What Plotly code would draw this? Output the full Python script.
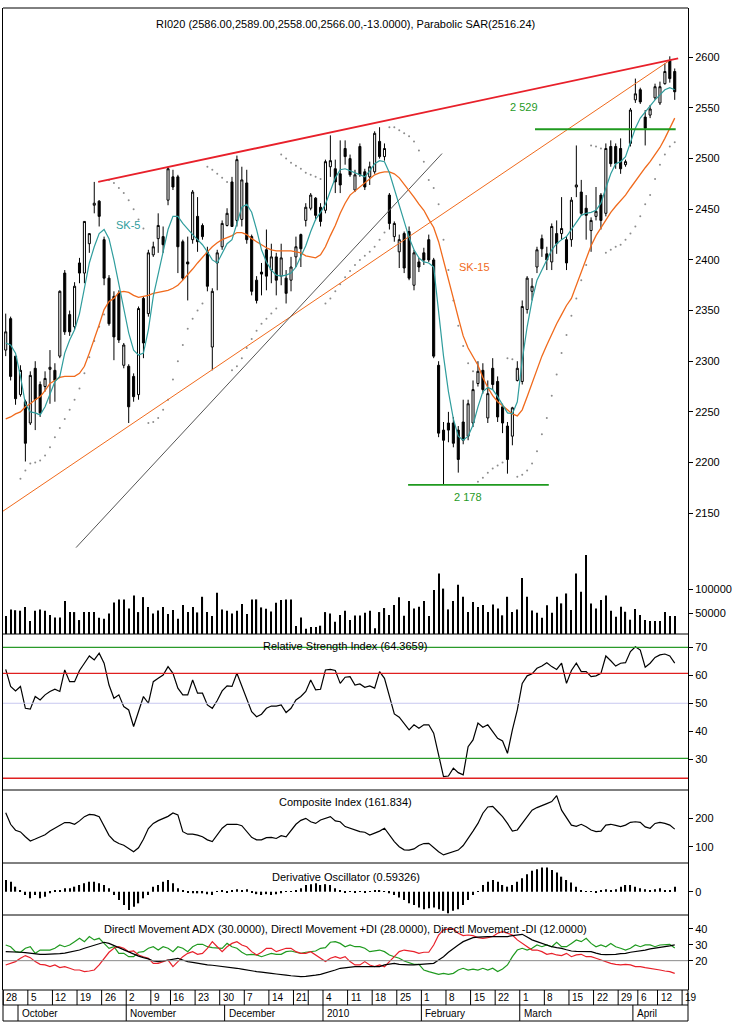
import plotly.graph_objects as go

# ---------------- data (trading-day index 0 = 28 Sep 2009) ----------------
day = list(range(137))

opn = [2311, 2342, 2305, 2267, 2260, 2239, 2293, 2277, 2275, 2292,
       2291, 2305, 2387, 2346, 2334, 2397, 2387, 2416, 2454, 2458,
       2420, 2382, 2364, 2367, 2296, 2295, 2285, 2267, 2362, 2347,
       2405, 2421, 2423, 2459, 2482, 2482, 2418, 2398, 2420, 2443,
       2434, 2408, 2314, 2397, 2413, 2434, 2477, 2439, 2440, 2476,
       2423, 2380, 2388, 2410, 2390, 2403, 2384, 2382, 2380, 2403,
       2425, 2439, 2451, 2461, 2452, 2449, 2492, 2490, 2485, 2510,
       2500, 2469, 2512, 2487, 2482, 2487, 2517, 2502, 2464, 2423,
       2408, 2426, 2428, 2375, 2398, 2407, 2420, 2400, 2296, 2232,
       2239, 2239, 2232, 2240, 2226, 2239, 2278, 2291, 2244, 2293,
       2280, 2255, 2236, 2226, 2281, 2280, 2351, 2369, 2393, 2421,
       2406, 2398, 2426, 2426, 2420, 2420, 2472, 2467, 2451, 2429,
       2443, 2464, 2446, 2512, 2512, 2510, 2494, 2515, 2558, 2568,
       2541, 2543, 2560, 2555, 2574, 2597, 2586]
high = [2347, 2344, 2305, 2296, 2262, 2290, 2300, 2280, 2290, 2311,
        2298, 2370, 2390, 2350, 2378, 2402, 2438, 2426, 2477, 2459,
        2423, 2385, 2369, 2370, 2318, 2297, 2288, 2354, 2364, 2410,
        2418, 2446, 2433, 2492, 2489, 2484, 2420, 2423, 2469, 2462,
        2436, 2413, 2372, 2410, 2439, 2451, 2482, 2503, 2492, 2489,
        2425, 2384, 2397, 2430, 2416, 2407, 2416, 2390, 2403, 2423,
        2426, 2456, 2466, 2462, 2456, 2499, 2523, 2499, 2518, 2518,
        2504, 2489, 2515, 2490, 2497, 2527, 2531, 2515, 2466, 2438,
        2425, 2428, 2433, 2410, 2402, 2412, 2425, 2402, 2300, 2240,
        2250, 2245, 2236, 2262, 2262, 2281, 2300, 2298, 2281, 2303,
        2285, 2258, 2240, 2255, 2300, 2360, 2384, 2382, 2413, 2425,
        2413, 2436, 2439, 2462, 2423, 2462, 2513, 2479, 2464, 2442,
        2472, 2466, 2515, 2518, 2515, 2520, 2499, 2550, 2579, 2570,
        2548, 2553, 2574, 2576, 2594, 2601, 2589]
low = [2305, 2281, 2257, 2265, 2201, 2237, 2232, 2245, 2270, 2258,
       2260, 2303, 2326, 2325, 2331, 2377, 2377, 2407, 2446, 2433,
       2375, 2335, 2301, 2318, 2293, 2239, 2260, 2262, 2303, 2344,
       2403, 2407, 2407, 2454, 2469, 2387, 2380, 2360, 2416, 2408,
       2420, 2369, 2291, 2370, 2410, 2433, 2433, 2433, 2433, 2416,
       2365, 2357, 2365, 2370, 2377, 2365, 2375, 2357, 2369, 2393,
       2393, 2433, 2449, 2439, 2433, 2446, 2482, 2466, 2466, 2494,
       2482, 2467, 2482, 2469, 2474, 2485, 2500, 2498, 2430, 2418,
       2392, 2387, 2380, 2370, 2388, 2395, 2398, 2303, 2225, 2178,
       2220, 2215, 2190, 2218, 2222, 2235, 2275, 2268, 2239, 2272,
       2240, 2229, 2189, 2217, 2280, 2277, 2347, 2360, 2387, 2403,
       2390, 2390, 2406, 2420, 2390, 2413, 2462, 2444, 2420, 2408,
       2439, 2430, 2443, 2492, 2490, 2485, 2492, 2512, 2555, 2554,
       2513, 2540, 2558, 2553, 2573, 2575, 2558]
close = [2329, 2285, 2263, 2291, 2219, 2286, 2262, 2249, 2283, 2294,
         2281, 2369, 2329, 2329, 2374, 2387, 2438, 2426, 2456, 2443,
         2382, 2337, 2324, 2321, 2316, 2255, 2265, 2352, 2318, 2407,
         2413, 2434, 2415, 2490, 2472, 2413, 2382, 2396, 2467, 2418,
         2423, 2374, 2369, 2407, 2436, 2446, 2433, 2499, 2479, 2420,
         2369, 2360, 2386, 2384, 2403, 2380, 2402, 2367, 2393, 2413,
         2411, 2452, 2464, 2444, 2438, 2497, 2498, 2477, 2474, 2502,
         2484, 2484, 2484, 2472, 2492, 2525, 2502, 2510, 2436, 2436,
         2420, 2392, 2382, 2407, 2393, 2400, 2400, 2305, 2229, 2222,
         2232, 2219, 2203, 2222, 2258, 2272, 2290, 2272, 2268, 2277,
         2245, 2239, 2203, 2254, 2293, 2354, 2382, 2374, 2410, 2411,
         2400, 2433, 2416, 2431, 2397, 2459, 2474, 2446, 2444, 2439,
         2448, 2439, 2510, 2495, 2495, 2490, 2497, 2548, 2564, 2556,
         2530, 2549, 2571, 2571, 2586, 2579, 2566]
volume = [44500, 58200, 56500, 55500, 63000, 34200, 55500, 58200, 55500, 46600,
          41800, 41800, 75400, 52700, 52700, 36300, 52700, 52700, 52700, 41100,
          39000, 50000, 72600, 78800, 78800, 60300, 87000, 52700, 83500, 63000,
          50000, 56200, 63000, 48600, 56800, 39000, 67300, 52700, 63000, 52000,
          84200, 52700, 44500, 92500, 58200, 55500, 50000, 55500, 69200, 48600,
          78800, 78800, 62300, 59600, 54100, 71900, 77400, 78800, 78800, 24000,
          41800, 18500, 21900, 21900, 24700, 52700, 50000, 32900, 46600, 55500,
          36300, 45900, 45900, 51400, 55500, 19200, 52700, 61000, 46600, 67300,
          83000, 45200, 75400, 60300, 63700, 75400, 44500, 98000, 132000, 101000,
          58200, 75400, 109000, 84200, 52700, 73300, 63000, 67300, 52700, 68500,
          60300, 46000, 84200, 52700, 58000, 123000, 84200, 56000, 51400, 41100,
          66600, 51400, 84200, 70600, 91000, 57000, 132000, 94500, 170000, 70600,
          60300, 77400, 87000, 55500, 43100, 63700, 53400, 37000, 58900, 46600,
          36300, 34200, 34200, 34200, 52700, 44500, 44500]
sk5 = [2318, 2316, 2308, 2285, 2258, 2250, 2249, 2247, 2255, 2268,
       2280, 2285, 2308, 2321, 2331, 2347, 2374, 2397, 2413, 2426,
       2430, 2421, 2400, 2377, 2351, 2328, 2311, 2306, 2308, 2331,
       2364, 2387, 2410, 2430, 2443, 2443, 2436, 2430, 2425, 2420,
       2415, 2408, 2400, 2397, 2407, 2416, 2420, 2436, 2452, 2455,
       2447, 2430, 2410, 2398, 2390, 2385, 2384, 2385, 2387, 2393,
       2403, 2414, 2428, 2440, 2447, 2455, 2468, 2481, 2489, 2490,
       2488, 2486, 2484, 2482, 2488, 2495, 2498, 2497, 2486, 2470,
       2452, 2436, 2422, 2410, 2402, 2398, 2397, 2393, 2350, 2305,
       2270, 2243, 2226, 2222, 2226, 2237, 2255, 2270, 2274, 2272,
       2265, 2257, 2249, 2248, 2260, 2301, 2334, 2360, 2380, 2390,
       2400, 2410, 2416, 2420, 2423, 2430, 2438, 2444, 2446, 2447,
       2449, 2456, 2471, 2485, 2495, 2497, 2502, 2515, 2530, 2540,
       2546, 2553, 2558, 2563, 2568, 2570, 2568]
sk15 = [2243, 2245, 2248, 2250, 2255, 2258, 2262, 2265, 2271, 2278,
        2281, 2284, 2285, 2285, 2285, 2288, 2295, 2308, 2321, 2336,
        2351, 2359, 2362, 2368, 2369, 2368, 2365, 2363, 2364, 2365,
        2367, 2368, 2369, 2370, 2372, 2375, 2380, 2385, 2391, 2397,
        2403, 2408, 2413, 2417, 2420, 2422, 2424, 2427, 2427, 2425,
        2421, 2418, 2415, 2412, 2410, 2409, 2409, 2409, 2409, 2408,
        2407, 2404, 2403, 2402, 2405, 2413, 2424, 2434, 2446, 2456,
        2464, 2468, 2472, 2476, 2480, 2484, 2486, 2487, 2487, 2485,
        2481, 2475, 2468, 2462, 2455, 2449, 2440, 2432, 2418, 2400,
        2380, 2362, 2343, 2325, 2313, 2304, 2296, 2284, 2274, 2266,
        2260, 2256, 2252, 2248, 2246, 2252, 2265, 2279, 2293, 2305,
        2316, 2327, 2337, 2346, 2355, 2362, 2375, 2390, 2403, 2414,
        2424, 2432, 2440, 2447, 2453, 2458, 2464, 2471, 2478, 2485,
        2491, 2497, 2504, 2511, 2520, 2530, 2540]
sar = [None, None, None, 2184, 2192, 2199, 2200, 2202, 2207, 2215,
       2225, 2234, 2243, 2252, 2262, 2273, 2288, 2304, 2320, 2334,
       2346, 2479, 2476, 2471, 2466, 2459, 2450, 2440, 2431, 2239,
       2240, 2244, 2252, 2262, 2282, 2300, 2316, 2332, 2342, 2350,
       2357, 2492, 2489, 2485, 2481, 2477, 2291, 2295, 2303, 2313,
       2322, 2330, 2337, 2342, 2347, 2352, 2504, 2500, 2496, 2493,
       2490, 2486, 2484, 2482, 2480, 2357, 2362, 2369, 2376, 2383,
       2389, 2395, 2400, 2404, 2408, 2413, 2420, 2427, 2531, 2531,
       2528, 2525, 2522, 2517, 2508, 2497, 2479, 2471, 2455, 2420,
       2390, 2360, 2335, 2315, 2298, 2290, 2181, 2185, 2190, 2194,
       2197, 2200, 2303, 2302, 2186, 2188, 2192, 2199, 2211, 2228,
       2244, 2266, 2287, 2308, 2326, 2345, 2362, 2380, 2395, 2513,
       2512, 2510, 2407, 2410, 2413, 2415, 2420, 2426, 2433, 2443,
       2455, 2464, 2480, 2494, 2504, 2512, 2516.24]
rsi = [62.1, 56.0, 54.4, 56.0, 48.2, 47.9, 52.4, 51.2, 53.0, 54.2,
       55.0, 54.2, 61.9, 57.7, 57.7, 61.7, 64.3, 66.9, 65.5, 67.9,
       64.3, 56.5, 51.8, 53.0, 48.8, 47.6, 41.7, 47.0, 52.4, 50.0,
       57.7, 58.9, 60.1, 63.1, 60.7, 55.4, 53.0, 53.0, 58.3, 53.6,
       53.6, 49.4, 48.2, 51.0, 54.4, 56.2, 56.0, 60.7, 56.0, 51.2,
       47.0, 45.2, 46.1, 48.2, 49.0, 49.0, 49.4, 46.7, 48.2, 51.2,
       52.4, 54.2, 58.3, 54.8, 55.0, 61.9, 62.1, 61.7, 57.1, 59.3,
       59.5, 56.5, 56.9, 55.7, 56.2, 55.4, 61.3, 58.9, 52.4, 46.2,
       45.0, 42.9, 40.5, 42.3, 41.1, 42.3, 42.3, 39.3, 31.0, 23.8,
       24.0, 26.8, 25.2, 24.4, 34.5, 36.9, 42.9, 41.4, 42.3, 39.9,
       37.5, 36.5, 32.1, 40.5, 47.6, 57.1, 59.8, 60.5, 62.5, 63.3,
       64.5, 63.1, 62.1, 64.3, 57.1, 61.7, 64.3, 61.3, 61.3, 59.5,
       59.8, 60.7, 66.9, 65.2, 63.3, 64.3, 64.5, 68.5, 70.2, 69.0,
       62.9, 64.3, 66.4, 67.3, 67.6, 66.9, 64.37]
ci = [220, 179, 158, 152, 135, 120, 127, 135, 142, 155,
      166, 175, 185, 185, 179, 191, 206, 214, 212, 206,
      175, 140, 121, 111, 105, 94, 82, 96, 126, 164,
      182, 192, 200, 207, 219, 212, 153, 144, 144, 141,
      135, 124, 118, 141, 165, 179, 179, 179, 174, 153,
      133, 124, 124, 132, 133, 129, 139, 135, 159, 179,
      193, 200, 188, 182, 194, 200, 206, 191, 188, 171,
      165, 158, 153, 151, 141, 148, 155, 165, 141, 118,
      100, 89, 88, 92, 104, 111, 112, 97, 82, 71,
      76, 82, 88, 104, 132, 155, 182, 218, 240, 242,
      224, 206, 182, 155, 159, 182, 209, 229, 238, 246,
      252, 259, 280, 229, 200, 176, 172, 179, 170, 159,
      153, 155, 176, 179, 175, 171, 176, 186, 188, 186,
      170, 165, 182, 186, 182, 176, 161.8]
dosc = [1.4, 1.2, 0.6, 0.2, -0.4, -0.8, -0.4, -0.8, -0.6, -0.2,
        0.1, 0.2, 0.4, 0.4, 0.6, 0.8, 1.0, 1.2, 1.2, 1.0,
        0.8, 0.4, -0.4, -1.0, -1.6, -2.2, -1.8, -1.4, -0.8, -0.4,
        0.6, 0.8, 1.2, 1.4, 1.0, 0.4, 0.1, -0.05, -0.2, -0.2,
        -0.2, -0.3, -0.4, 0.05, 0.1, -0.1, 0.1, 0.3, 0.2, 0.3,
        -0.05, -0.3, -0.4, -0.3, -0.4, -0.3, -0.2, 0.05, 0.05, 0.1,
        0.4, 0.8, 0.9, 1.0, 0.8, 0.9, 0.8, 0.4, 0.1, -0.05,
        0.05, -0.1, 0.03, -0.1, 0.03, 0.1, 0.2, 0.03, -0.2, -0.4,
        -0.7, -1.0, -1.4, -1.6, -1.9, -2.1, -2.0, -1.9, -2.1, -2.3,
        -2.6, -2.3, -2.1, -1.6, -1.0, -0.4, 0.05, 0.8, 1.2, 1.4,
        1.2, 0.8, 0.6, 0.8, 1.2, 1.6, 2.1, 2.5, 2.7, 2.9,
        2.9, 2.6, 2.3, 1.8, 1.4, 1.1, 0.6, 0.2, 0.03, 0.03,
        -0.1, 0.1, 0.3, 0.2, 0.3, 0.6, 0.8, 0.8, 0.6, 0.4,
        0.3, 0.2, 0.3, 0.4, 0.2, 0.16, 0.593]
adx = [25.7, 25.7, 25.7, 25.3, 25.1, 24.6, 24.4, 24.0, 24.0, 24.0,
       24.0, 24.4, 24.8, 25.3, 26.1, 26.7, 27.8, 28.8, 29.9, 30.9,
       31.6, 30.9, 29.5, 28.2, 26.7, 25.3, 24.0, 22.9, 21.9, 21.1,
       19.8, 19.4, 19.8, 20.4, 21.1, 21.5, 20.4, 19.4, 18.9, 18.3,
       17.7, 17.3, 17.1, 16.8, 16.4, 16.2, 15.6, 15.2, 14.7, 14.1,
       13.5, 13.1, 12.8, 12.6, 12.0, 11.6, 11.4, 10.9, 10.5, 10.1,
       9.9, 10.1, 10.3, 10.9, 11.4, 12.2, 13.1, 14.1, 15.2, 15.6,
       16.2, 16.2, 16.2, 16.2, 16.2, 16.2, 16.2, 17.3, 17.7, 18.3,
       17.7, 17.3, 17.3, 17.3, 17.5, 17.7, 17.9, 18.3, 20.4, 22.5,
       25.3, 27.8, 29.9, 32.0, 33.3, 34.5, 34.9, 35.2, 35.2, 35.2,
       35.2, 35.2, 35.2, 35.8, 36.2, 36.6, 34.9, 33.1, 32.0, 30.9,
       29.9, 28.8, 28.2, 27.8, 26.9, 26.1, 25.9, 25.7, 25.7, 25.7,
       24.8, 24.0, 23.8, 23.8, 24.0, 24.4, 24.6, 25.3, 25.7, 26.1,
       26.7, 27.4, 27.8, 28.2, 28.8, 29.3, 30.0]
pdi = [29.9, 28.8, 25.7, 25.3, 27.8, 28.8, 24.6, 26.7, 26.7, 26.7,
       27.8, 29.9, 28.8, 29.9, 32.0, 34.1, 32.0, 35.2, 33.1, 34.1,
       30.9, 27.8, 28.8, 24.6, 24.6, 22.5, 22.5, 25.3, 25.7, 27.8,
       28.8, 26.7, 28.8, 27.8, 25.7, 28.8, 27.8, 25.7, 28.8, 30.3,
       30.3, 28.8, 28.2, 27.8, 27.8, 30.9, 28.8, 27.8, 25.3, 23.6,
       24.0, 23.6, 22.5, 23.6, 24.6, 24.0, 24.0, 25.7, 26.1, 25.3,
       24.6, 25.3, 25.7, 26.1, 27.8, 28.2, 31.6, 32.0, 30.9, 28.8,
       29.9, 28.8, 28.8, 27.8, 25.7, 26.1, 26.7, 25.7, 23.6, 22.5,
       21.5, 19.8, 18.9, 17.7, 17.7, 14.1, 13.1, 12.0, 11.4, 12.0,
       11.4, 12.0, 14.1, 15.2, 14.1, 14.7, 14.1, 15.2, 14.1, 15.2,
       13.1, 14.7, 17.3, 22.5, 26.7, 27.8, 26.7, 27.8, 29.9, 28.8,
       29.9, 28.8, 31.6, 28.8, 28.8, 30.9, 33.1, 32.0, 34.1, 30.9,
       28.8, 29.9, 28.8, 30.9, 28.8, 27.8, 26.7, 27.8, 29.9, 28.8,
       29.9, 29.9, 28.8, 29.9, 30.3, 30.3, 28.0]
mdi = [17.3, 18.3, 19.4, 21.5, 23.2, 21.9, 19.4, 17.7, 17.3, 16.2,
       17.3, 15.6, 16.2, 15.2, 14.1, 14.1, 13.1, 13.5, 14.1, 17.3,
       21.5, 25.3, 27.8, 28.8, 27.8, 25.7, 26.1, 23.6, 22.5, 21.5,
       18.3, 18.3, 19.4, 20.4, 16.2, 19.4, 22.5, 24.6, 25.7, 24.0,
       24.6, 27.8, 32.0, 28.8, 25.7, 28.8, 30.9, 32.0, 29.9, 28.8,
       25.7, 23.6, 25.3, 27.8, 27.8, 25.7, 26.7, 27.8, 27.8, 25.7,
       24.6, 24.6, 25.7, 23.6, 21.5, 19.4, 21.5, 22.5, 21.5, 22.5,
       19.4, 17.3, 17.3, 19.4, 17.3, 16.2, 17.3, 16.2, 19.4, 22.5,
       25.7, 26.7, 26.1, 25.7, 24.6, 25.3, 25.3, 29.9, 36.2, 39.4,
       40.0, 40.0, 37.3, 35.8, 36.2, 35.8, 34.5, 34.1, 34.5, 35.2,
       37.3, 38.3, 37.3, 36.2, 33.1, 30.9, 28.8, 26.7, 26.7, 25.7,
       24.0, 24.6, 23.6, 23.2, 24.6, 22.5, 23.6, 24.0, 22.5, 22.5,
       21.5, 20.4, 19.4, 18.3, 17.7, 17.3, 17.7, 17.3, 16.2, 16.2,
       15.6, 15.2, 14.7, 14.1, 13.5, 13.1, 12.0]

# drawn trend lines / levels (chart coordinates: day index, price)
resist_x, resist_y = [18.8, 136.7], [2477, 2599]
support_x, support_y = [-0.55, 135.0], [2152, 2597]
trend_x, trend_y = [14.3, 88.7], [2116, 2505]
level_hi_x, level_hi = [107.6, 136.2], 2529
level_lo_x, level_lo = [81.8, 110.4], 2178
rsi_levels = [(70, "#2a9a2a"), (60.7, "#e02020"), (30.3, "#2a9a2a"), (23.2, "#e02020")]

week_idx = [0, 5, 10, 15, 20, 25, 30, 34, 39, 44, 49, 54, 59, 62, 65, 70, 75, 80,
            85, 90, 95, 100, 105, 110, 115, 120, 125, 129, 133, 138]
week_lbl = ["28", "5", "12", "19", "26", "2", "9", "16", "23", "30", "7", "14", "21", "",
            "4", "11", "18", "25", "1", "8", "15", "22", "1", "8", "15", "22", "29", "6", "12", "19"]
month_idx = [3, 25, 45, 65, 85, 105, 128]
month_lbl = ["October", "November", "December", "2010", "February", "March", "April"]

# ---------------- layout helpers ----------------
W, H = 739, 1022
ML, MR, MT, MB = 3, 51, 8, 32
PW, PH = W - ML - MR, H - MT - MB
X0, X1 = -0.55, 138.7


def fy(py):
    return (H - MB - py) / PH


def fxi(i):
    return (i - X0) / (X1 - X0)


FONT = "Liberation Sans, Arial, sans-serif"
TEAL = "#2f9d9d"
ORANGE = "#f06a1c"
RED = "#e8202a"
GREEN = "#1f9a1f"

fig = go.Figure()

fig.add_trace(go.Bar(x=day, y=volume, yaxis="y2", width=0.24,
                     marker=dict(color="black", line=dict(width=0))))
fig.add_trace(go.Candlestick(
    x=day, open=opn, high=high, low=low, close=close, whiskerwidth=0,
    increasing=dict(line=dict(color="black", width=1), fillcolor="white"),
    decreasing=dict(line=dict(color="black", width=1), fillcolor="black")))
fig.add_trace(go.Scatter(x=day, y=sar, mode="markers",
                         marker=dict(size=2, color="#8c8c8c")))
fig.add_trace(go.Scatter(x=support_x, y=support_y, mode="lines",
                         line=dict(color=ORANGE, width=1)))
fig.add_trace(go.Scatter(x=trend_x, y=trend_y, mode="lines",
                         line=dict(color="#555555", width=1)))
fig.add_trace(go.Scatter(x=day, y=sk15, mode="lines",
                         line=dict(color=ORANGE, width=1.3)))
fig.add_trace(go.Scatter(x=day, y=sk5, mode="lines",
                         line=dict(color=TEAL, width=1.2)))
fig.add_trace(go.Scatter(x=resist_x, y=resist_y, mode="lines",
                         line=dict(color=RED, width=1.8)))
fig.add_trace(go.Scatter(x=level_hi_x, y=[level_hi, level_hi], mode="lines",
                         line=dict(color=GREEN, width=1.8)))
fig.add_trace(go.Scatter(x=level_lo_x, y=[level_lo, level_lo], mode="lines",
                         line=dict(color=GREEN, width=1.8)))

fig.add_trace(go.Scatter(x=day, y=rsi, yaxis="y3", mode="lines",
                         line=dict(color="black", width=1.2)))
fig.add_trace(go.Scatter(x=day, y=ci, yaxis="y4", mode="lines",
                         line=dict(color="black", width=1.2)))
fig.add_trace(go.Bar(x=day, y=dosc, yaxis="y5", width=0.24,
                     marker=dict(color="black", line=dict(width=0))))
fig.add_trace(go.Scatter(x=day, y=pdi, yaxis="y6", mode="lines",
                         line=dict(color=GREEN, width=1.2)))
fig.add_trace(go.Scatter(x=day, y=mdi, yaxis="y6", mode="lines",
                         line=dict(color=RED, width=1.2)))
fig.add_trace(go.Scatter(x=day, y=adx, yaxis="y6", mode="lines",
                         line=dict(color="black", width=1.2)))

tick_font = dict(family=FONT, size=11, color="black")
ax = dict(side="right", showgrid=False, zeroline=False, showline=True,
          linecolor="black", linewidth=1, mirror=True, ticks="outside",
          ticklen=4, tickcolor="black", tickfont=tick_font, fixedrange=True)

fig.update_layout(
    width=W, height=H, margin=dict(l=ML, r=MR, t=MT, b=MB),
    paper_bgcolor="white", plot_bgcolor="white", showlegend=False,
    barmode="overlay", boxgap=0.4,
    xaxis=dict(range=[X0, X1], anchor="y6", showticklabels=False, ticks="",
               showgrid=False, zeroline=False, showline=False,
               rangeslider=dict(visible=False), fixedrange=True),
    yaxis=dict(domain=[fy(634), 1], range=[2030.7, 2648.7],
               tickvals=list(range(2150, 2601, 50)), tickformat="d", **ax),
    yaxis2=dict(overlaying="y", side="right", range=[7600, 1295666],
                tickvals=[50000, 100000], ticktext=["50000", "100000"],
                showgrid=False, zeroline=False, showline=False, ticks="outside",
                ticklen=4, tickcolor="black", tickfont=tick_font, fixedrange=True),
    yaxis3=dict(domain=[fy(790), fy(634)], range=[19.0, 74.75],
                tickvals=[30, 40, 50, 60, 70], **ax),
    yaxis4=dict(domain=[fy(863), fy(790)], range=[42.4, 300],
                tickvals=[100, 200], **ax),
    yaxis5=dict(domain=[fy(915), fy(863)], range=[-2.8, 3.44],
                tickvals=[0], **ax),
    yaxis6=dict(domain=[0, fy(915)], range=[1.5, 48.8],
                tickvals=[20, 30, 40], **ax),
)

shapes = []
# frame and panel separators
for yy in [8, 634, 790, 863, 915, 990, 1005, 1021]:
    shapes.append(dict(type="line", xref="paper", yref="paper", x0=0, x1=1,
                       y0=fy(yy), y1=fy(yy), line=dict(color="black", width=1)))
for xx in [0, 1]:
    shapes.append(dict(type="line", xref="paper", yref="paper", x0=xx, x1=xx,
                       y0=fy(990), y1=fy(1021), line=dict(color="black", width=1)))
for i in week_idx:
    xp = fxi(i - 0.5)
    if xp <= 1:
        shapes.append(dict(type="line", xref="paper", yref="paper", x0=xp, x1=xp,
                           y0=fy(990), y1=fy(1005), line=dict(color="black", width=1)))
for i in month_idx:
    xp = fxi(i - 0.5)
    shapes.append(dict(type="line", xref="paper", yref="paper", x0=xp, x1=xp,
                       y0=fy(1005), y1=fy(1021), line=dict(color="black", width=1)))
for lv, col in rsi_levels:
    shapes.append(dict(type="line", xref="paper", yref="y3", x0=0, x1=1,
                       y0=lv, y1=lv, line=dict(color=col, width=1.3)))
shapes.append(dict(type="line", xref="paper", yref="y3", x0=0, x1=1, y0=50, y1=50,
                   line=dict(color="#c8c8f0", width=1)))
shapes.append(dict(type="line", xref="paper", yref="y6", x0=0, x1=1, y0=20, y1=20,
                   line=dict(color="#8a8a8a", width=1)))
fig.update_layout(shapes=shapes)

ann = []
title_font = dict(family=FONT, size=11, color="black")
titles = [
    (24, "RI020 (2586.00,2589.00,2558.00,2566.00,-13.0000), Parabolic SAR(2516.24)"),
    (646, "Relative Strength Index (64.3659)"),
    (802, "Composite Index (161.834)"),
    (877, "Derivative Oscillator (0.59326)"),
    (929, "Directl Movement ADX (30.0000), Directl Movement +DI (28.0000), "
          "Directl Movement -DI (12.0000)"),
]
for yy, txt in titles:
    ann.append(dict(xref="paper", yref="paper", x=0.5, y=fy(yy), text=txt,
                    showarrow=False, font=title_font, xanchor="center", yanchor="middle"))
for i, lbl in zip(week_idx, week_lbl):
    if lbl:
        ann.append(dict(xref="paper", yref="paper", x=fxi(i - 0.5), y=fy(997.5),
                        text=lbl, showarrow=False, xanchor="left", yanchor="middle",
                        xshift=1, font=dict(family=FONT, size=10, color="black")))
for i, lbl in zip(month_idx, month_lbl):
    ann.append(dict(xref="paper", yref="paper", x=fxi(i - 0.5), y=fy(1013),
                    text=lbl, showarrow=False, xanchor="left", yanchor="middle",
                    xshift=2, font=dict(family=FONT, size=10, color="black")))
ann.append(dict(xref="x", yref="y", x=24.9, y=2434, text="SK-5", showarrow=False,
                font=dict(family=FONT, size=11, color=TEAL)))
ann.append(dict(xref="x", yref="y", x=95.2, y=2393, text="SK-15", showarrow=False,
                font=dict(family=FONT, size=11, color=ORANGE)))
ann.append(dict(xref="x", yref="y", x=105.3, y=2551, text="2 529", showarrow=False,
                font=dict(family=FONT, size=11, color=GREEN)))
ann.append(dict(xref="x", yref="y", x=94.0, y=2166, text="2 178", showarrow=False,
                font=dict(family=FONT, size=11, color=GREEN)))
fig.update_layout(annotations=ann)

fig.write_html("out.html")
